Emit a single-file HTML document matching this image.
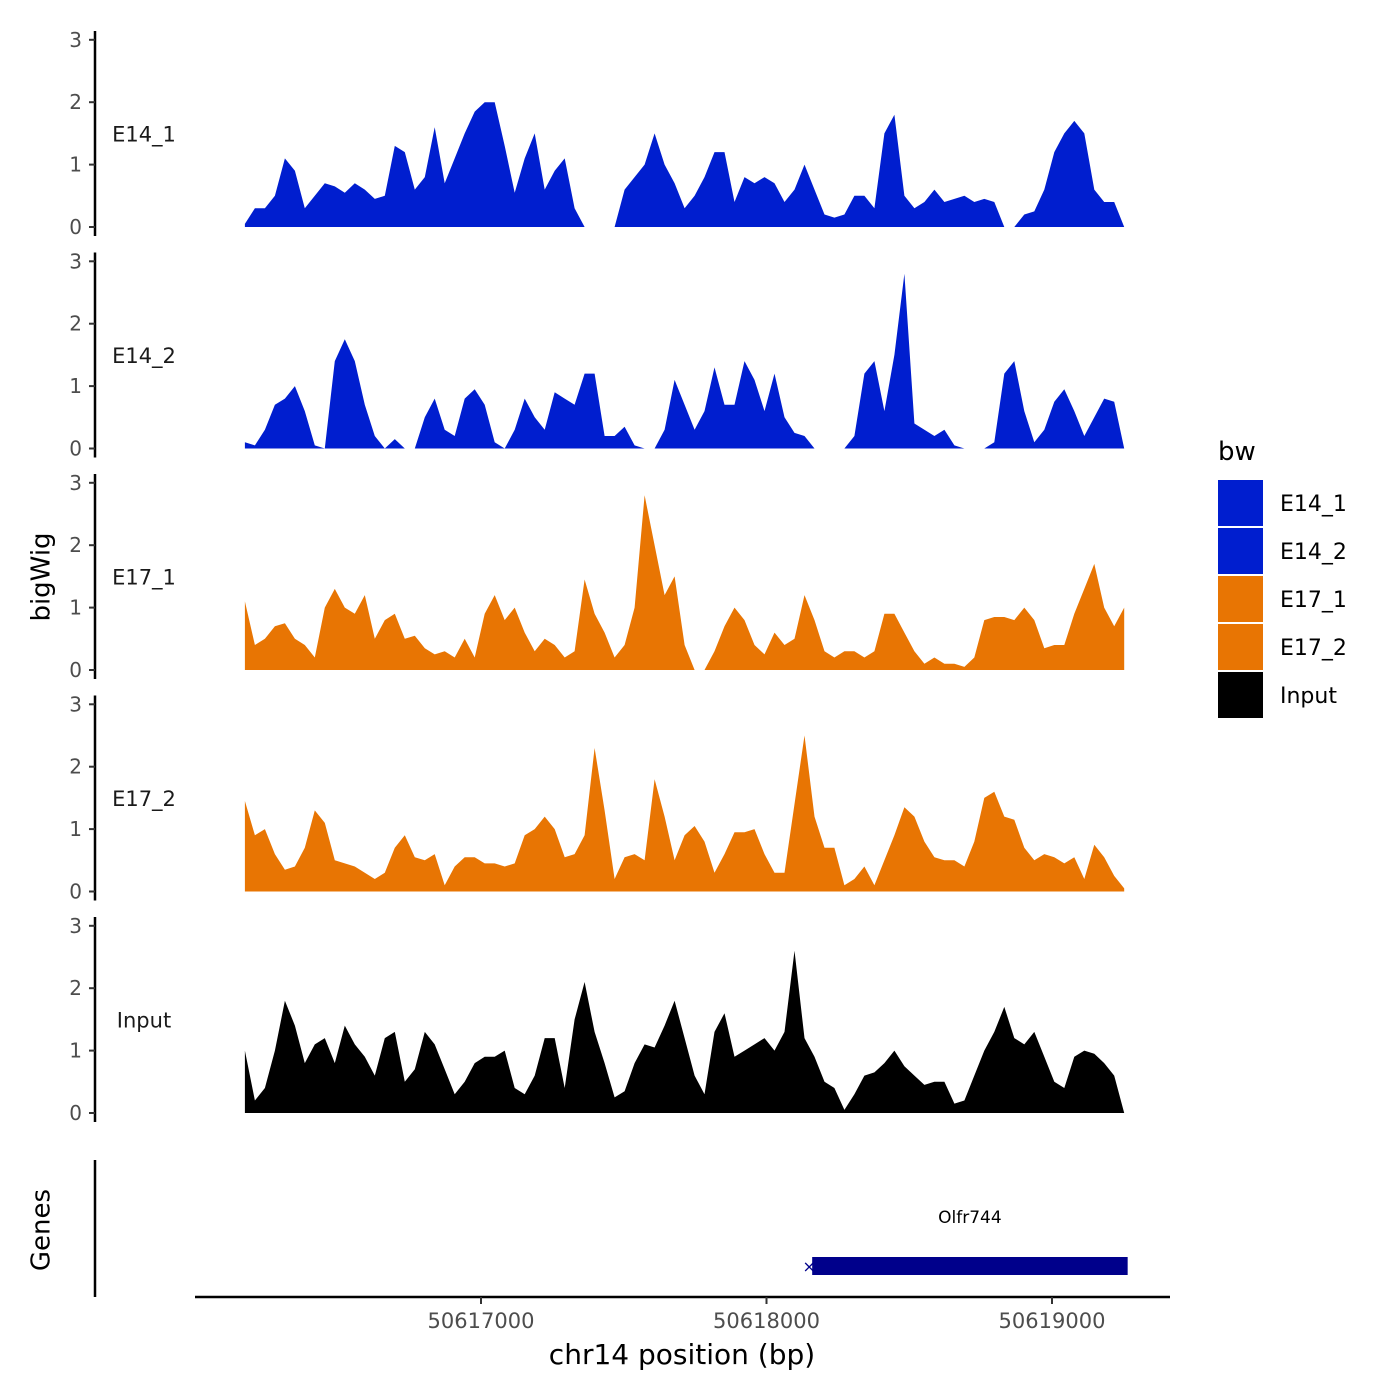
<!DOCTYPE html>
<html><head><meta charset="utf-8"><style>
body{margin:0;background:#fff}
svg{display:block;font-family:"DejaVu Sans","Liberation Sans",sans-serif}
</style></head><body>
<svg id="chart" width="1400" height="1400" viewBox="0 0 1400 1400" xmlns="http://www.w3.org/2000/svg">
<rect width="1400" height="1400" fill="#fff"/>
<g id="tracks"></g>
<g id="genes">
<line x1="95" y1="1160" x2="95" y2="1297" stroke="#000" stroke-width="2.5"/>
<text x="42" y="1230" font-size="26" text-anchor="middle" transform="rotate(-90 42 1230)" dominant-baseline="middle">Genes</text>
</g>
<g id="xaxis">
<line x1="195" y1="1297" x2="1170" y2="1297" stroke="#000" stroke-width="2.5"/>
</g>
<text x="682" y="1364" font-size="28" text-anchor="middle">chr14 position (bp)</text>
<text x="42" y="577" font-size="26" text-anchor="middle" dominant-baseline="middle" transform="rotate(-90 42 577)">bigWig</text>
<g id="legend">
<text x="1218" y="460" font-size="26">bw</text>
</g>
</svg>
<script>
const START_BP = 50616173;
const STEP_BP = 35;
const trackNames = ["E14_1","E14_2","E17_1","E17_2","Input"];
const trackColors = ["#001ECF","#001ECF","#E87503","#E87503","#000000"];
const yTicks = [0,1,2,3];
const xTicks = [50617000,50618000,50619000];
const xTickLabels = ["50617000","50618000","50619000"];
const geneName = "Olfr744";
const geneStart = 50618160;
const geneEnd = 50619265;
const e14_1 = [0.05,0.3,0.3,0.5,1.1,0.9,0.3,0.5,0.7,0.65,0.55,0.7,0.6,0.45,0.5,1.3,1.2,0.6,0.8,1.6,0.7,1.1,1.5,1.85,2.0,2.0,1.3,0.55,1.1,1.5,0.6,0.9,1.1,0.3,0,0,0,0,0.6,0.8,1.0,1.5,1.0,0.7,0.3,0.5,0.8,1.2,1.2,0.4,0.8,0.7,0.8,0.7,0.4,0.6,1.0,0.6,0.2,0.15,0.2,0.5,0.5,0.3,1.5,1.8,0.5,0.3,0.4,0.6,0.4,0.45,0.5,0.4,0.45,0.4,0,0,0.2,0.25,0.6,1.2,1.5,1.7,1.5,0.6,0.4,0.4,0];
const e14_2 = [0.1,0.05,0.3,0.7,0.8,1.0,0.6,0.05,0,1.4,1.75,1.4,0.7,0.2,0,0.15,0,0,0.5,0.8,0.3,0.2,0.8,0.95,0.7,0.1,0,0.3,0.8,0.5,0.3,0.9,0.8,0.7,1.2,1.2,0.2,0.2,0.35,0.05,0,0,0.3,1.1,0.7,0.3,0.6,1.3,0.7,0.7,1.4,1.1,0.6,1.2,0.5,0.25,0.2,0,0,0,0,0.2,1.2,1.4,0.6,1.5,2.8,0.4,0.3,0.2,0.3,0.05,0,0,0,0.1,1.2,1.4,0.6,0.1,0.3,0.75,0.95,0.6,0.2,0.5,0.8,0.75,0];
const e17_1 = [1.1,0.4,0.5,0.7,0.75,0.5,0.4,0.2,1.0,1.3,1.0,0.9,1.2,0.5,0.8,0.9,0.5,0.55,0.35,0.25,0.3,0.2,0.5,0.2,0.9,1.2,0.8,1.0,0.6,0.3,0.5,0.4,0.2,0.3,1.45,0.9,0.6,0.2,0.4,1.0,2.8,2.0,1.2,1.5,0.4,0,0,0.3,0.7,1.0,0.8,0.4,0.25,0.6,0.4,0.5,1.2,0.8,0.3,0.2,0.3,0.3,0.2,0.3,0.9,0.9,0.6,0.3,0.1,0.2,0.1,0.1,0.05,0.2,0.8,0.85,0.85,0.8,1.0,0.8,0.35,0.4,0.4,0.9,1.3,1.7,1.0,0.7,1.0];
const e17_2 = [1.45,0.9,1.0,0.6,0.35,0.4,0.7,1.3,1.1,0.5,0.45,0.4,0.3,0.2,0.3,0.7,0.9,0.55,0.5,0.6,0.1,0.4,0.55,0.55,0.45,0.45,0.4,0.45,0.9,1.0,1.2,1.0,0.55,0.6,0.9,2.3,1.3,0.2,0.55,0.6,0.5,1.8,1.2,0.5,0.9,1.05,0.8,0.3,0.6,0.95,0.95,1.0,0.6,0.3,0.3,1.4,2.5,1.2,0.7,0.7,0.1,0.2,0.4,0.1,0.5,0.9,1.35,1.2,0.8,0.55,0.5,0.5,0.4,0.8,1.5,1.6,1.2,1.15,0.7,0.5,0.6,0.55,0.45,0.55,0.2,0.75,0.55,0.25,0.05];
const inputVals = [1.0,0.2,0.4,1.0,1.8,1.4,0.8,1.1,1.2,0.8,1.4,1.1,0.9,0.6,1.2,1.3,0.5,0.7,1.3,1.1,0.7,0.3,0.5,0.8,0.9,0.9,1.0,0.4,0.3,0.6,1.2,1.2,0.4,1.5,2.1,1.3,0.8,0.25,0.35,0.8,1.1,1.05,1.4,1.8,1.2,0.6,0.3,1.3,1.6,0.9,1.0,1.1,1.2,1.0,1.3,2.6,1.2,0.9,0.5,0.4,0.05,0.3,0.6,0.65,0.8,1.0,0.75,0.6,0.45,0.5,0.5,0.15,0.2,0.6,1.0,1.3,1.7,1.2,1.1,1.3,0.9,0.5,0.4,0.9,1.0,0.95,0.8,0.6,0];
const trackValues = [e14_1,e14_2,e17_1,e17_2,inputVals];

const NS="http://www.w3.org/2000/svg";
function X(bp){return 481+(bp-50617000)*0.2855;}
const ZERO0=227, PANEL_GAP=221.5, UNIT=62.4;
function Y(panel,v){return ZERO0+panel*PANEL_GAP - v*UNIT;}
function mk(tag,attrs,parent){const e=document.createElementNS(NS,tag);for(const k in attrs)e.setAttribute(k,attrs[k]);parent.appendChild(e);return e;}
const tracks=document.getElementById('tracks');
trackValues.forEach((vals,p)=>{
  const g=mk('g',{},tracks);
  
  
  const z=Y(p,0);
  const ax=mk('line',{x1:95,y1:z-196,x2:95,y2:z+9,stroke:'#000','stroke-width':2.5},g);
  
  
  yTicks.forEach(t=>{
    const ty=Y(p,t);
    const tl=mk('line',{x1:89,y1:ty,x2:95,y2:ty,stroke:'#333','stroke-width':2},g);
    
    
    const tx=mk('text',{x:82,y:ty+7,'font-size':20,'text-anchor':'end',fill:'#4d4d4d'},g);
    tx.textContent=t;
    
    
  });
  const lab=mk('text',{x:144,y:Y(p,1.5)+8,'font-size':21,'text-anchor':'middle',fill:'#1a1a1a'},g);
  lab.textContent=trackNames[p];
  
  
  let d='M'+X(START_BP).toFixed(1)+','+z;
  vals.forEach((v,i)=>{d+=' L'+X(START_BP+i*STEP_BP).toFixed(1)+','+Y(p,v).toFixed(1);});
  d+=' L'+X(START_BP+(vals.length-1)*STEP_BP).toFixed(1)+','+z+' Z';
  const area=mk('path',{d:d,fill:trackColors[p]},g);
  
  
});
const xa=document.getElementById('xaxis');
xTicks.forEach((t,i)=>{
  const tl=mk('line',{x1:X(t),y1:1297,x2:X(t),y2:1304,stroke:'#333','stroke-width':2},xa);
  
  
  const tx=mk('text',{x:X(t),y:1328,'font-size':21,'text-anchor':'middle',fill:'#4d4d4d'},xa);
  tx.textContent=xTickLabels[i];
  
  
});
const gn=document.getElementById('genes');
const gb=mk('rect',{x:X(geneStart),y:1257,width:X(geneEnd)-X(geneStart),height:18,fill:'#00008B'},gn);


const gm=mk('text',{x:X(geneStart)-3,y:1272,'font-size':16,'text-anchor':'middle',fill:'#00008B'},gn);
gm.textContent='×';


const gt=mk('text',{x:(X(geneStart)+X(geneEnd))/2,y:1223,'font-size':17,'text-anchor':'middle',fill:'#000'},gn);
gt.textContent=geneName;


const lg=document.getElementById('legend');
const legendLabels=["E14_1","E14_2","E17_1","E17_2","Input"];
legendLabels.forEach((n,i)=>{
  const r=mk('rect',{x:1218,y:480+i*48,width:45,height:46,fill:trackColors[i]},lg);
  
  
  const t=mk('text',{x:1280,y:511+i*48,'font-size':22,fill:'#000'},lg);
  t.textContent=n;
  
  
});
</script>
</body></html>
